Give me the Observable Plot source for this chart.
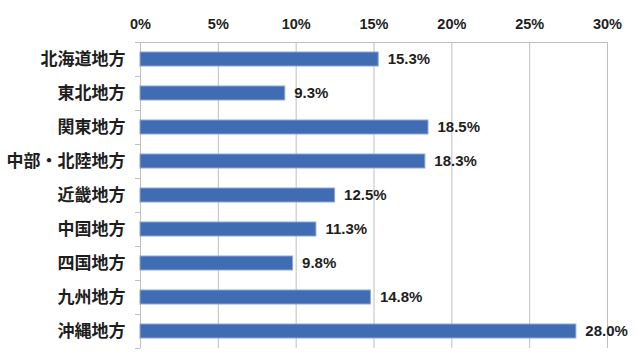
<!DOCTYPE html>
<html>
<head>
<meta charset="utf-8">
<script src="https://cdn.jsdelivr.net/npm/d3@7"></script>
<script src="https://cdn.jsdelivr.net/npm/@observablehq/plot@0.6"></script>
<style>
  html, body { margin: 0; padding: 0; background: #fff; }
</style>
</head>
<body>
<div id="chart"></div>
<script>
const regions = ["北海道地方", "東北地方", "関東地方", "中部・北陸地方", "近畿地方", "中国地方", "四国地方", "九州地方", "沖縄地方"];
const shares = [15.3, 9.3, 18.5, 18.3, 12.5, 11.3, 9.8, 14.8, 28.0];
const xTicks = [0, 5, 10, 15, 20, 25, 30];

const data = regions.map((region, i) => ({region, share: shares[i]}));

function frameLines(index, scales, values, dims) {
  const {height, marginTop, marginBottom} = dims;
  const g = d3.create("svg:g").attr("stroke", "#bfbfbf").attr("stroke-width", 1);
  const x0 = scales.x(xTicks[0]);
  const xEnd = scales.x(xTicks[xTicks.length - 1]);
  g.append("line")
    .attr("x1", x0 - 5).attr("x2", xEnd + 0.5)
    .attr("y1", marginTop + 0.5).attr("y2", marginTop + 0.5);
  const step = (height - marginTop - marginBottom) / regions.length;
  for (let i = 0; i <= regions.length; i++) {
    const yy = Math.round(marginTop + i * step) + 0.5;
    g.append("line").attr("x1", x0 - 5).attr("x2", x0).attr("y1", yy).attr("y2", yy);
  }
  return g.node();
}

const chart = Plot.plot({
  width: 640,
  height: 353,
  marginTop: 42,
  marginLeft: 140,
  marginRight: 33,
  marginBottom: 5,
  style: {fontFamily: "'Liberation Sans', 'Noto Sans CJK JP', sans-serif", fontSize: "14px", color: "#1e1e1e", background: "#fff"},
  x: {domain: [0, 30], label: null},
  y: {domain: regions, paddingInner: 0.58, paddingOuter: 0.29, label: null},
  marks: [
    Plot.gridX(xTicks, {stroke: "#bfbfbf", strokeOpacity: 1}),
    frameLines,
    Plot.axisX({anchor: "top", ticks: xTicks, tickSize: 0, tickPadding: 14, tickFormat: d => d + "%", fontWeight: "bold", fontSize: 14.5, fill: "#1e1e1e"}),
    Plot.axisY({tickSize: 0, tickPadding: 15, fontWeight: "bold", fontSize: 17, fontFamily: "'Noto Sans CJK JP', sans-serif", fill: "#1e1e1e"}),
    Plot.barX(data, {x: "share", y: "region", fill: "#3f6cb3", stroke: "#8aa6d6", strokeWidth: 1}),
    Plot.text(data, {x: "share", y: "region", text: d => d.share.toFixed(1) + "%", dx: 9, textAnchor: "start", fontWeight: "bold", fontSize: 15, fill: "#1e1e1e"})
  ]
});
document.getElementById("chart").appendChild(chart);
</script>
</body>
</html>
